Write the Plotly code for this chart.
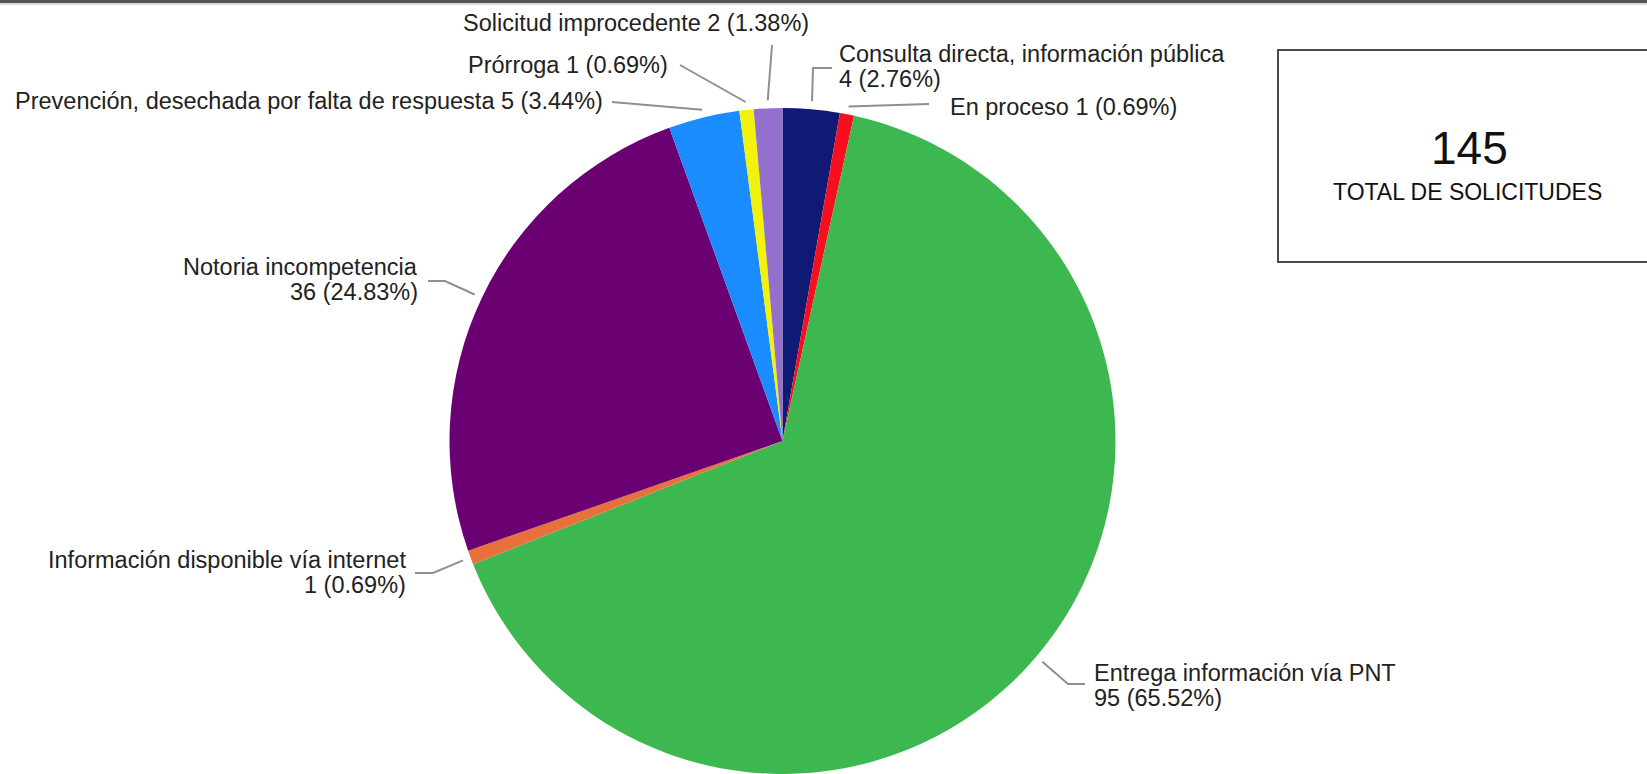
import math
import plotly.graph_objects as go

# ---- data ----
categories = [
    "Consulta directa, información pública",
    "En proceso",
    "Entrega información vía PNT",
    "Información disponible vía internet",
    "Notoria incompetencia",
    "Prevención, desechada por falta de respuesta",
    "Prórroga",
    "Solicitud improcedente",
]
values = [4, 1, 95, 1, 36, 5, 1, 2]
percent_labels = ["2.76%", "0.69%", "65.52%", "0.69%", "24.83%", "3.44%", "0.69%", "1.38%"]
colors = ["#0e1a74", "#f70f1f", "#3db851", "#e8703a", "#6a0072", "#1a8cff", "#f2f20a", "#9370cc"]
total_label = "TOTAL DE SOLICITUDES"

W, H = 1647, 774
total = sum(values)

# ---- layout (pixels) ----
CX, CY, R = 782.5, 441.0, 333.0


def px(x):
    return x / W


def py(y):
    return 1 - y / H


def two_line(i):
    return [categories[i], f"{values[i]} ({percent_labels[i]})"]


def one_line(i):
    return [f"{categories[i]} {values[i]} ({percent_labels[i]})"]


label_lines = [two_line(0), one_line(1), two_line(2), two_line(3), two_line(4), one_line(5), one_line(6), one_line(7)]
# anchor x, first-line y, xanchor, leader path points after start
label_style = [
    dict(x=837, y=54, xa="left", path=[(813, 68), (832, 68)]),
    dict(x=948, y=107, xa="left", path=[(929, 104)]),
    dict(x=1092, y=673, xa="left", path=[(1068, 684), (1085, 684)]),
    dict(x=408, y=560, xa="right", path=[(433, 573), (415, 573)]),
    dict(x=420, y=267, xa="right", path=[(445, 281), (428, 281)]),
    dict(x=605, y=101, xa="right", path=[(612, 102)]),
    dict(x=670, y=65, xa="right", path=[(680, 65)]),
    dict(x=636, y=23, xa="center", path=[(772, 45)]),
]
LINE_GAP = 25
FONT = "Liberation Sans, Arial, sans-serif"

fig = go.Figure()
fig.add_trace(go.Pie(
    labels=categories,
    values=values,
    marker=dict(colors=colors, line=dict(width=0)),
    sort=False,
    direction="clockwise",
    rotation=0,
    textinfo="none",
    showlegend=False,
    domain=dict(x=[px(CX - R), px(CX + R)], y=[py(CY + R), py(CY - R)]),
))

annotations = []
shapes = []
cum = 0
for i, v in enumerate(values):
    mid = (cum + v / 2) / total * 2 * math.pi
    cum += v
    st = label_style[i]
    sx = CX + (R + 8) * math.sin(mid)
    sy = CY - (R + 8) * math.cos(mid)
    pts = [(sx, sy)] + st["path"]
    d = "M " + " L ".join(f"{px(x):.5f},{py(y):.5f}" for x, y in pts)
    shapes.append(dict(type="path", xref="paper", yref="paper", path=d,
                       line=dict(color="#8f8f8f", width=2)))
    for k, line in enumerate(label_lines[i]):
        annotations.append(dict(
            x=px(st["x"]), y=py(st["y"] + k * LINE_GAP), xref="paper", yref="paper",
            text=line, showarrow=False, xanchor=st["xa"], yanchor="middle",
            align=st["xa"],
            font=dict(family=FONT, size=23.5, color="#222222"),
        ))

# total box
shapes.append(dict(type="rect", xref="paper", yref="paper",
                   x0=px(1278), x1=px(1660), y0=py(262), y1=py(50),
                   line=dict(color="#4a4a4a", width=2), fillcolor="rgba(0,0,0,0)"))
annotations.append(dict(x=px(1469), y=py(148), xref="paper", yref="paper", text=str(total),
                        showarrow=False, xanchor="center", yanchor="middle",
                        font=dict(family=FONT, size=46, color="#111111")))
annotations.append(dict(x=px(1467), y=py(192), xref="paper", yref="paper", text=total_label,
                        showarrow=False, xanchor="center", yanchor="middle",
                        font=dict(family=FONT, size=23, color="#111111")))

# top border line
shapes.append(dict(type="line", xref="paper", yref="paper", x0=0, x1=1, y0=py(1.5), y1=py(1.5),
                   line=dict(color="#555555", width=3)))
shapes.append(dict(type="line", xref="paper", yref="paper", x0=0, x1=1, y0=py(4), y1=py(4),
                   line=dict(color="#bbbbbb", width=1)))

fig.update_layout(
    width=W, height=H,
    margin=dict(l=0, r=0, t=0, b=0),
    paper_bgcolor="white", plot_bgcolor="white",
    annotations=annotations, shapes=shapes,
)

fig.write_html(
    "out.html",
    config={"displayModeBar": False},
    post_script="document.body.style.margin='0';document.body.style.overflow='hidden';",
)
